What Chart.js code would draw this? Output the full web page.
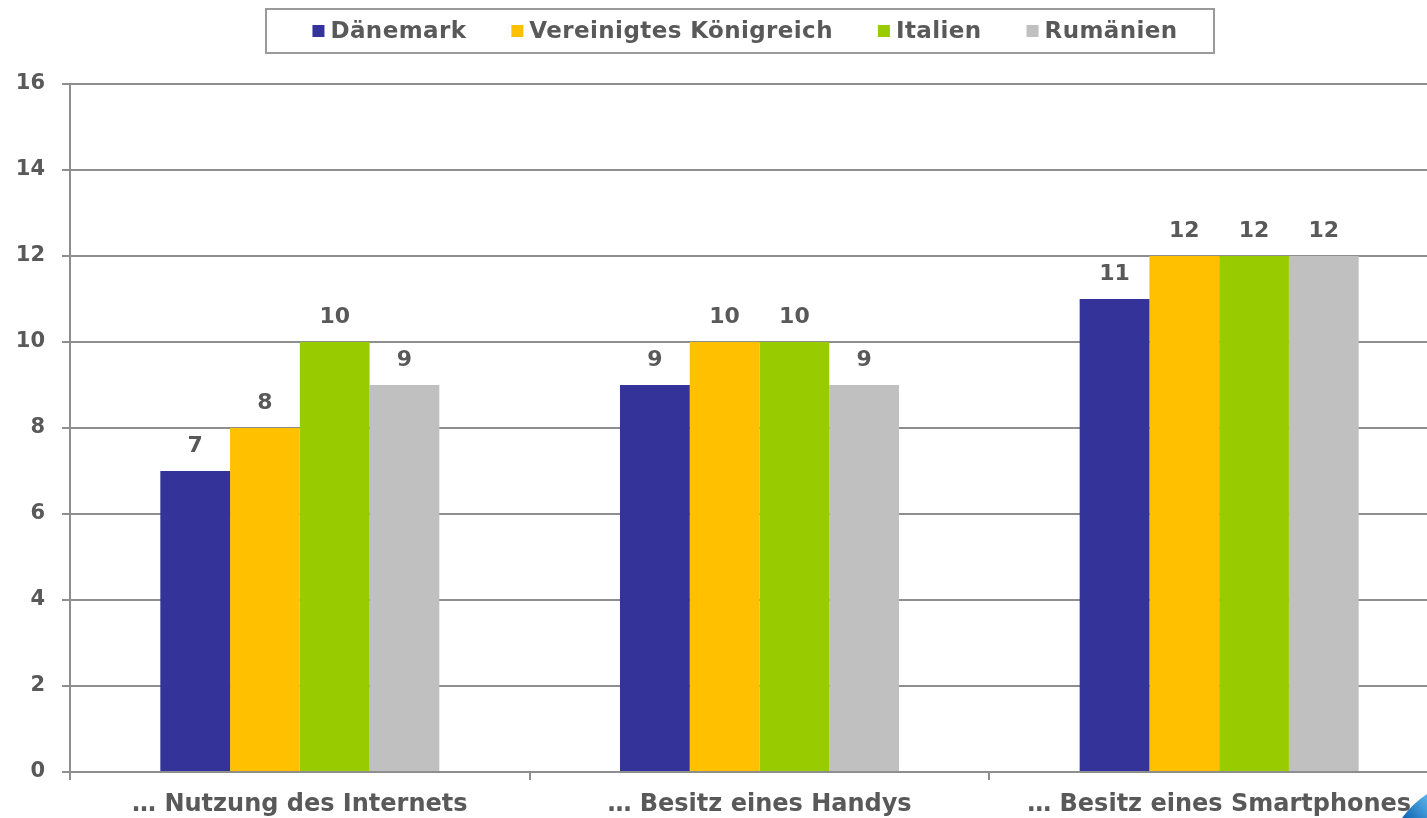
<!DOCTYPE html>
<html lang="de">
<head>
<meta charset="utf-8">
<title>Nutzung Internet, Handy, Smartphone</title>
<script src="https://cdn.jsdelivr.net/npm/chart.js@4"></script>
<style>
  html, body { margin: 0; padding: 0; overflow: hidden; background: #fff; }
  #wrap { width: 1449px; height: 818px; position: relative; }
</style>
</head>
<body>
<div id="wrap"><canvas id="chart"></canvas></div>
<script>
// --- Daten ---
const categories = ["… Nutzung des Internets", "… Besitz eines Handys", "… Besitz eines Smartphones"];
const seriesNames = ["Dänemark", "Vereinigtes Königreich", "Italien", "Rumänien"];
const daenemark = [7, 9, 11];
const vereinigtesKoenigreich = [8, 10, 12];
const italien = [10, 10, 12];
const rumaenien = [9, 9, 12];
const yMin = 0, yMax = 16, yStep = 2;

const colors = ["#333399", "#ffc000", "#99cc00", "#c0c0c0"];
const textColor = "#595959";
const lineColor = "#8e8e8e";
const fontFamily = "'DejaVu Sans', Verdana, sans-serif";

// --- eigene Legende mit Rahmen ---
const boxLegend = {
  id: "boxLegend",
  afterDraw(chart) {
    const ctx = chart.ctx;
    ctx.save();
    ctx.strokeStyle = "#9a9a9a";
    ctx.lineWidth = 2;
    ctx.strokeRect(266, 9, 948, 44);
    ctx.font = "bold 23px " + fontFamily;
    ctx.letterSpacing = "0.4px";
    ctx.textBaseline = "middle";
    ctx.textAlign = "left";
    const sq = 12, gap = 6, spacing = 45;
    const widths = chart.data.datasets.map(d => ctx.measureText(d.label).width);
    const total = widths.reduce((a, w) => a + sq + gap + w, 0) + spacing * (widths.length - 1);
    let x = 745 - total / 2;
    chart.data.datasets.forEach((d, i) => {
      ctx.fillStyle = d.backgroundColor;
      ctx.fillRect(x, 31 - sq / 2, sq, sq);
      ctx.fillStyle = textColor;
      ctx.fillText(d.label, x + sq + gap, 32);
      x += sq + gap + widths[i] + spacing;
    });
    ctx.restore();
  }
};

// --- Werte ueber den Balken ---
const valueLabels = {
  id: "valueLabels",
  afterDatasetsDraw(chart) {
    const ctx = chart.ctx;
    ctx.save();
    ctx.font = "bold 22px " + fontFamily;
    ctx.fillStyle = textColor;
    ctx.textAlign = "center";
    ctx.textBaseline = "middle";
    chart.data.datasets.forEach((d, i) => {
      chart.getDatasetMeta(i).data.forEach((bar, j) => {
        ctx.fillText(d.data[j], bar.x, bar.y - 25);
      });
    });
    ctx.restore();
  }
};

// --- blaue Ecke unten rechts ---
const cornerSwoosh = {
  id: "cornerSwoosh",
  afterDraw(chart) {
    const ctx = chart.ctx;
    ctx.save();
    const g = ctx.createLinearGradient(1400, 818, 1427, 795);
    g.addColorStop(0, "#0b5fb0");
    g.addColorStop(1, "#5bb4ea");
    ctx.fillStyle = g;
    ctx.beginPath();
    ctx.moveTo(1402, 818);
    ctx.quadraticCurveTo(1412, 804, 1427, 794);
    ctx.lineTo(1427, 818);
    ctx.closePath();
    ctx.fill();
    ctx.restore();
  }
};

const datasets = [daenemark, vereinigtesKoenigreich, italien, rumaenien].map((vals, i) => ({
  label: seriesNames[i],
  data: vals,
  backgroundColor: colors[i],
  barPercentage: 1.0,
  categoryPercentage: 0.607
}));

new Chart(document.getElementById("chart"), {
  type: "bar",
  data: { labels: categories, datasets },
  options: {
    responsive: true,
    maintainAspectRatio: false,
    animation: false,
    layout: { padding: { top: 84, left: 0, right: 0, bottom: 0 } },
    plugins: {
      legend: { display: false },
      tooltip: { enabled: false }
    },
    scales: {
      x: {
        afterFit(scale) { scale.height = 46; },
        grid: {
          drawOnChartArea: false,
          drawTicks: true,
          tickLength: 8,
          color: lineColor,
          lineWidth: 2
        },
        border: { color: lineColor, width: 2 },
        ticks: {
          color: textColor,
          padding: 10,
          font: { family: fontFamily, size: 24, weight: "bold" }
        }
      },
      y: {
        min: yMin,
        max: yMax,
        afterFit(scale) { scale.width = 70; },
        grid: {
          color: lineColor,
          lineWidth: 2,
          tickLength: 8
        },
        border: { color: lineColor, width: 2 },
        ticks: {
          stepSize: yStep,
          color: textColor,
          padding: 17,
          font: { family: fontFamily, size: 21, weight: "bold" }
        }
      }
    }
  },
  plugins: [boxLegend, valueLabels, cornerSwoosh]
});
</script>
</body>
</html>
